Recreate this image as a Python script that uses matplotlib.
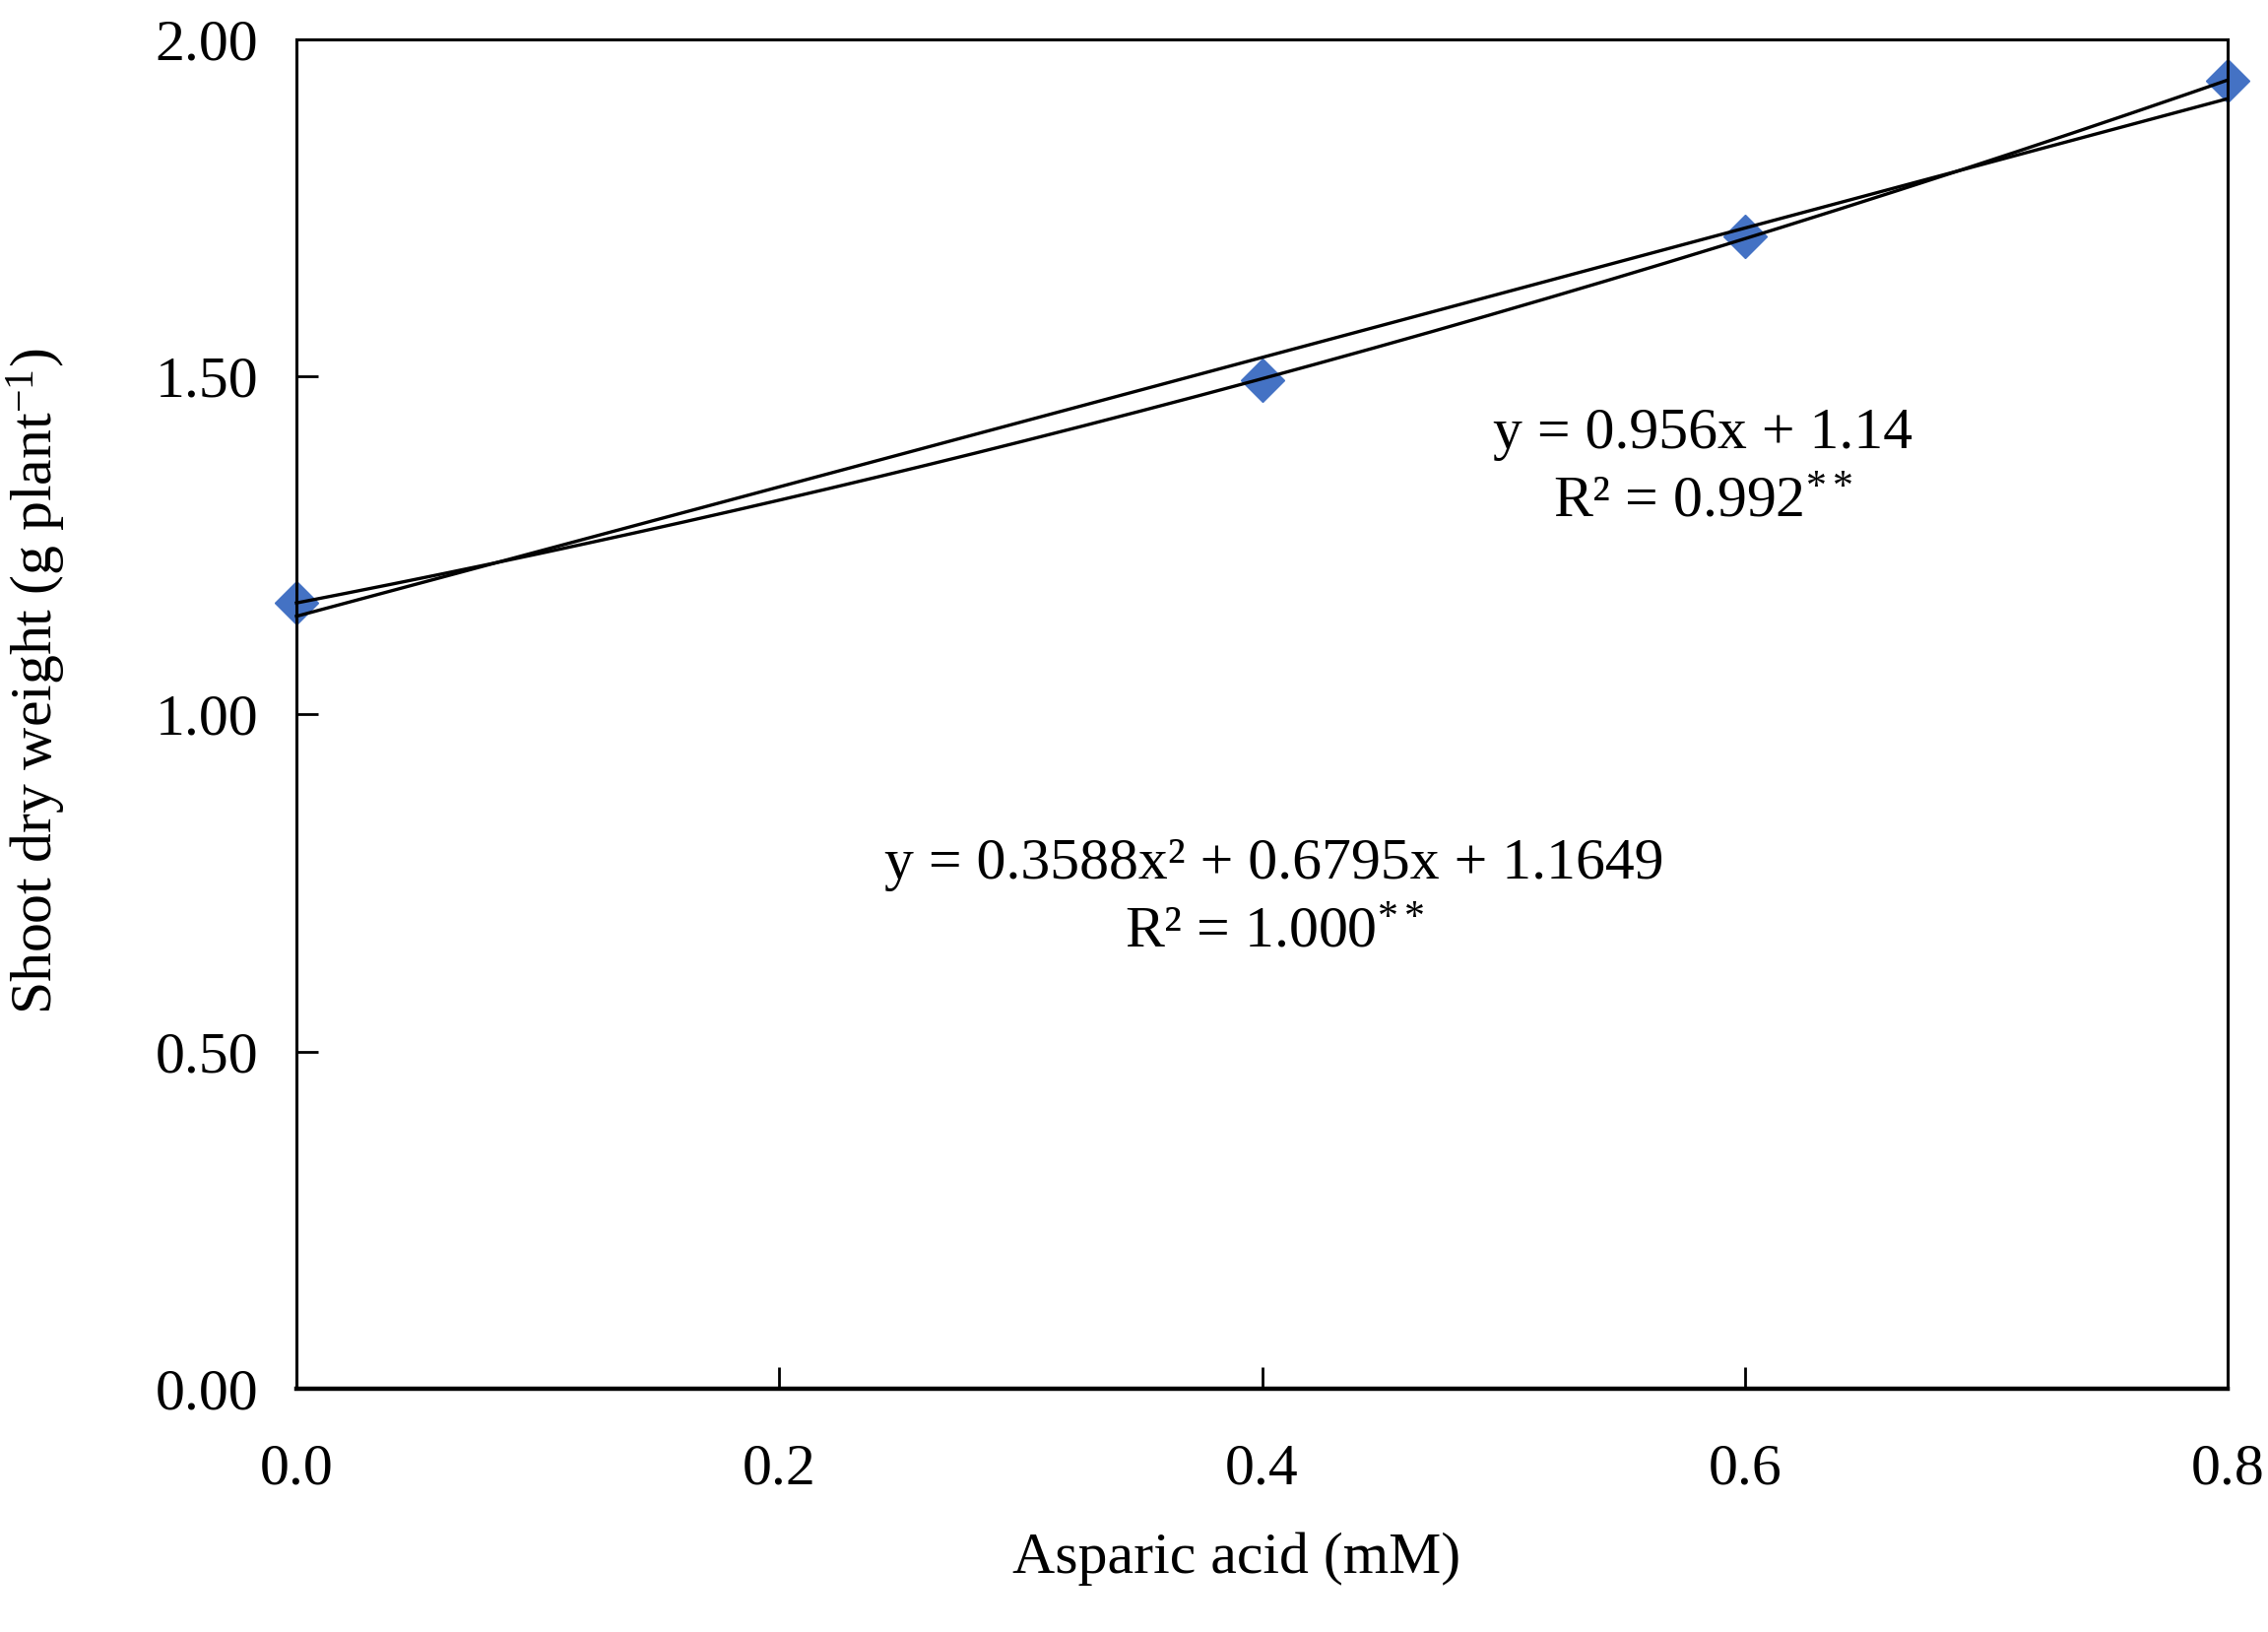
import numpy as np
import matplotlib
matplotlib.use("Agg")
import matplotlib.pyplot as plt

# Data
aspartic = [0.0, 0.4, 0.6, 0.8]
shoot_dw = [1.165, 1.494, 1.708, 1.938]
x_ticks = [0.0, 0.2, 0.4, 0.6, 0.8]
x_ticklabels = ["0.0", "0.2", "0.4", "0.6", "0.8"]
y_ticks = [0.0, 0.5, 1.0, 1.5, 2.0]
y_ticklabels = ["0.00", "0.50", "1.00", "1.50", "2.00"]
lin_eq = "y = 0.956x + 1.14"
lin_r2 = r"R² = 0.992$^{\mathrm{**}}$"
quad_eq = "y = 0.3588x² + 0.6795x + 1.1649"
quad_r2 = r"R² = 1.000$^{\mathrm{**}}$"

plt.rcParams['font.family'] = ['Liberation Serif', 'DejaVu Serif']
plt.rcParams['mathtext.fontset'] = 'custom'
plt.rcParams['mathtext.rm'] = 'Liberation Serif'
plt.rcParams['mathtext.it'] = 'Liberation Serif:italic'
plt.rcParams['mathtext.bf'] = 'Liberation Serif:bold'

FS = 43
fig = plt.figure(figsize=(23.03, 16.57), dpi=100)
ax = fig.add_axes([0.1307, 0.149, 0.8515, 0.8270])

x = np.array(aspartic)
y = np.array(shoot_dw)
xs = np.linspace(0, 0.8, 200)
p1 = np.polyfit(x, y, 1)
p2 = np.polyfit(x, y, 2)

ax.plot(x, y, linestyle='none', marker='D', markersize=22, color='#4472C4', zorder=2, clip_on=False)
ax.plot(xs, np.polyval(p1, xs), color='black', lw=2.4, zorder=3, clip_on=False)
ax.plot(xs, np.polyval(p2, xs), color='black', lw=2.4, zorder=3, clip_on=False)

ax.set_xlim(0, 0.8)
ax.set_ylim(0, 2.0)
ax.set_xticks(x_ticks)
ax.set_xticklabels(x_ticklabels)
ax.set_yticks(y_ticks)
ax.set_yticklabels(y_ticklabels)
ax.tick_params(axis='both', direction='in', length=16, width=2, labelsize=FS)
ax.tick_params(axis='x', pad=40)
ax.tick_params(axis='y', pad=28)
for s in ax.spines.values():
    s.set_linewidth(2.2)
ax.spines['bottom'].set_linewidth(3.2)

ax.text(0.5825, 1.415, lin_eq, fontsize=FS, ha='center', va='center')
ax.text(0.5825, 1.312, lin_r2, fontsize=FS, ha='center', va='center')
ax.text(0.405, 0.776, quad_eq, fontsize=FS, ha='center', va='center')
ax.text(0.405, 0.675, quad_r2, fontsize=FS, ha='center', va='center')

fig.text(1256/2303, 1 - 1583/1657, "Asparic acid (mM)", fontsize=FS, ha='center', va='center')
fig.text(37/2303, 1 - 692/1657, r"Shoot dry weight (g plant$^{\mathrm{-1}}$)", fontsize=FS,
         ha='center', va='center', rotation=90)

fig.savefig("out.png", dpi=100)
